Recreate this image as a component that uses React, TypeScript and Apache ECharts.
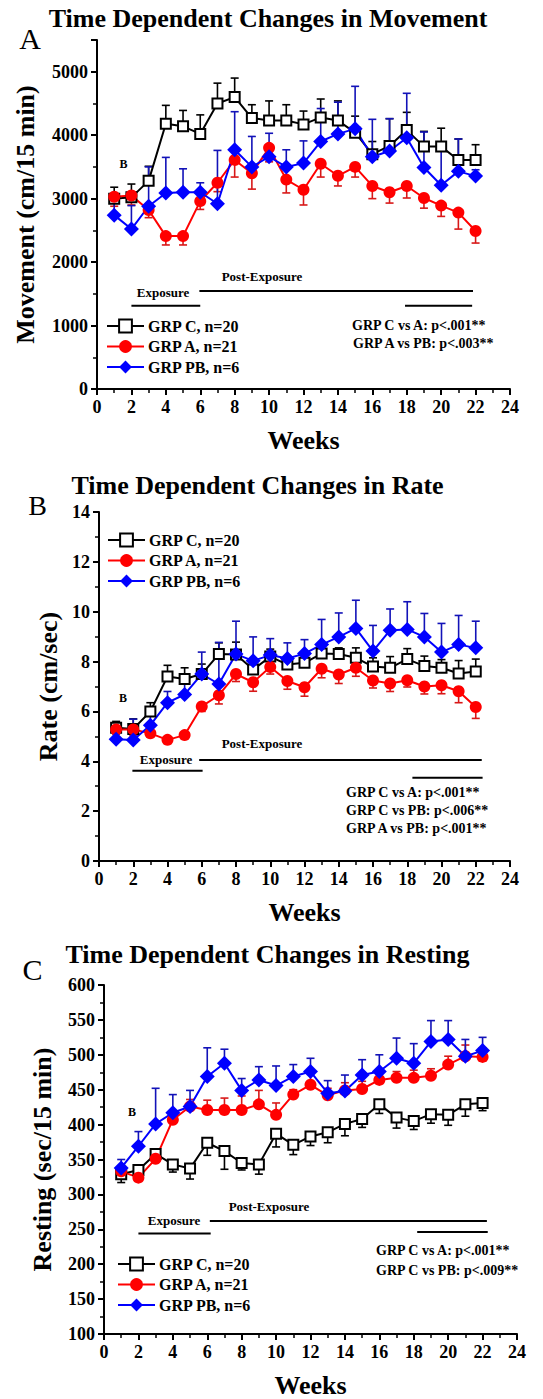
import React, { useEffect, useRef } from "react";
import * as echarts from "echarts";

// ---------- data ----------
const weeks = [1, 2, 3, 4, 5, 6, 7, 8, 9, 10, 11, 12, 13, 14, 15, 16, 17, 18, 19, 20, 21, 22];
const groupNames = ["GRP C, n=20", "GRP A, n=21", "GRP PB, n=6"];
const xTicks = [0, 2, 4, 6, 8, 10, 12, 14, 16, 18, 20, 22, 24];

// Panel A: Movement (cm/15 min)
const movementC = [3000, 3020, 3280, 4180, 4140, 4020, 4500, 4600, 4270, 4230, 4230, 4170, 4280, 4230, 4040, 3700, 3830, 4080, 3820, 3820, 3610, 3610];
const movementCErr = [180, 210, 230, 290, 250, 300, 320, 300, 210, 310, 250, 210, 290, 310, 260, 200, 430, 280, 240, 290, 330, 240];
const movementA = [3030, 3050, 2820, 2410, 2410, 2960, 3250, 3610, 3400, 3800, 3300, 3140, 3550, 3360, 3500, 3200, 3100, 3200, 3010, 2890, 2780, 2490];
const movementAErr = [150, 150, 120, 140, 140, 130, 140, 270, 250, 220, 210, 240, 210, 160, 160, 200, 170, 190, 160, 170, 260, 190];
const movementPB = [2740, 2520, 2880, 3090, 3100, 3100, 2920, 3770, 3500, 3660, 3500, 3560, 3900, 4020, 4100, 3660, 3750, 3960, 3490, 3210, 3430, 3355];
const movementPBErr = [300, 370, 620, 560, 370, 150, 840, 600, 480, 370, 270, 350, 520, 500, 670, 590, 510, 700, 560, 670, 510, 100];

// Panel B: Rate (cm/sec)
const rateC = [5.35, 5.3, 6.0, 7.4, 7.3, 7.5, 8.3, 8.28, 7.68, 8.2, 7.88, 7.95, 8.32, 8.3, 8.15, 7.8, 7.75, 8.1, 7.82, 7.75, 7.52, 7.6];
const rateCErr = [0.25, 0.4, 0.35, 0.45, 0.45, 0.4, 0.45, 0.5, 0.4, 0.3, 0.3, 0.3, 0.3, 0.25, 0.4, 0.35, 0.45, 0.42, 0.4, 0.33, 0.52, 0.5];
const rateA = [5.28, 5.28, 5.12, 4.86, 5.05, 6.2, 6.65, 7.5, 7.17, 7.78, 7.22, 6.97, 7.71, 7.48, 7.75, 7.24, 7.12, 7.25, 7.0, 7.05, 6.81, 6.18];
const rateAErr = [0.2, 0.25, 0.15, 0.15, 0.15, 0.2, 0.35, 0.3, 0.36, 0.28, 0.33, 0.36, 0.36, 0.36, 0.34, 0.3, 0.32, 0.27, 0.3, 0.34, 0.46, 0.46];
const ratePB = [4.88, 4.85, 5.45, 6.35, 6.68, 7.5, 7.1, 8.3, 8.03, 8.26, 8.12, 8.32, 8.68, 8.99, 9.33, 8.42, 9.26, 9.29, 8.99, 8.38, 8.68, 8.55];
const ratePBErr = [0.6, 0.84, 0.45, 0.45, 0.67, 0.88, 1.67, 1.32, 0.96, 0.66, 0.63, 0.56, 1.01, 0.96, 1.13, 1.03, 0.85, 1.11, 0.94, 1.15, 1.17, 1.07];

// Panel C: Resting (sec/15 min)
const restC = [329, 335, 358, 343, 337, 374, 362, 345, 343, 387, 371, 383, 389, 401, 408, 429, 410, 405, 415, 414, 429, 431];
const restCErr = [12, 13, 10, 11, 15, 18, 26, 10, 14, 19, 14, 13, 15, 17, 12, 13, 15, 12, 13, 15, 17, 11];
const restA = [333, 324, 351, 407, 426, 421, 421, 421, 429, 414, 443, 457, 442, 449, 451, 464, 467, 467, 470, 486, 498, 497];
const restAErr = [8, 6, 8, 9, 10, 14, 17, 20, 20, 17, 7, 19, 10, 11, 11, 12, 9, 11, 10, 12, 16, 13];
const restPB = [338, 369, 401, 417, 426, 469, 488, 449, 464, 456, 469, 476, 445, 448, 471, 476, 495, 488, 519, 522, 498, 506];
const restPBErr = [12, 21, 51, 26, 23, 41, 20, 17, 19, 28, 17, 19, 18, 23, 22, 24, 29, 28, 30, 27, 24, 19];

// period bars: [startWeek, endWeek, level]
const movementExposure = [2, 6, 1310];
const movementPost = [5.95, 21.85, 1545];
const movementStatBar = [17.9, 21.8, 1310];
const rateExposure = [1.95, 6.05, 3.62];
const ratePost = [5.85, 22.35, 4.05];
const rateStatBar = [18.3, 22.4, 3.34];
const restExposure = [2.0, 6.2, 244];
const restPost = [6.15, 22.25, 262];
const restStatBar = [18.2, 22.3, 246];

const statsA = ["GRP C vs A: p<.001**", "GRP A vs PB: p<.003**"];
const statsB = ["GRP C vs A: p<.001**", "GRP C vs PB: p<.006**", "GRP A vs PB: p<.001**"];
const statsC = ["GRP C vs A: p<.001**", "GRP C vs PB: p<.009**"];

// ---------- styling ----------
const FONT = "'Liberation Serif', 'Times New Roman', serif";
const BLACK = "#000000";
const RED = "#ff0000";
const BLUE = "#0000ff";
const RED_BAR = "#d81818";
const BLUE_BAR = "#1212b8";

function errRender(color: string) {
  return (params: any, api: any) => {
    const x = api.value(0);
    const v = api.value(1);
    const e = api.value(2);
    const p = api.coord([x, v]);
    const q = api.coord([x, e]);
    return {
      type: "group",
      children: [
        { type: "line", shape: { x1: p[0], y1: p[1], x2: q[0], y2: q[1] }, style: { stroke: color, lineWidth: 1.6 } },
        { type: "line", shape: { x1: q[0] - 4, y1: q[1], x2: q[0] + 4, y2: q[1] }, style: { stroke: color, lineWidth: 1.6 } },
      ],
    };
  };
}

function groupSeries(idx: number, name: string, vals: number[], errs: number[], dir: number, kind: "C" | "A" | "PB") {
  const color = kind === "C" ? BLACK : kind === "A" ? RED : BLUE;
  const barColor = kind === "C" ? BLACK : kind === "A" ? RED_BAR : BLUE_BAR;
  const bars = {
    type: "custom",
    name: name + " SEM",
    xAxisIndex: idx,
    yAxisIndex: idx,
    renderItem: errRender(barColor),
    encode: { x: 0, y: 1 },
    silent: true,
    data: weeks.map((w, i) => [w, vals[i], vals[i] + dir * errs[i]]),
  };
  const line = {
    type: "line",
    name,
    xAxisIndex: idx,
    yAxisIndex: idx,
    symbol: kind === "C" ? "emptyRect" : kind === "A" ? "circle" : "diamond",
    symbolSize: kind === "C" ? 10 : kind === "A" ? 12 : 15,
    showAllSymbol: true,
    lineStyle: { color, width: 2 },
    itemStyle: { color, borderColor: color, borderWidth: kind === "C" ? 1.6 : 0 },
    data: weeks.map((w, i) => [w, vals[i]]),
  };
  return [bars, line];
}

function periodLine(idx: number, seg: number[], key: string) {
  return {
    type: "line",
    name: key,
    xAxisIndex: idx,
    yAxisIndex: idx,
    symbol: "none",
    silent: true,
    lineStyle: { color: BLACK, width: 2 },
    data: [
      [seg[0], seg[2]],
      [seg[1], seg[2]],
    ],
  };
}

const axisText = { color: BLACK, fontFamily: FONT, fontWeight: "bold" as const, fontSize: 18 };

function xAxisCfg(idx: number) {
  return {
    type: "value",
    gridIndex: idx,
    min: 0,
    max: 24,
    interval: 2,
    name: "Weeks",
    nameLocation: "middle",
    nameGap: 38,
    nameTextStyle: { color: BLACK, fontFamily: FONT, fontWeight: "bold", fontSize: 26 },
    axisLine: { lineStyle: { color: BLACK, width: 2 } },
    axisTick: { length: 6, lineStyle: { color: BLACK, width: 2 } },
    minorTick: { show: true, splitNumber: 2, length: 4, lineStyle: { color: BLACK, width: 1.5 } },
    splitLine: { show: false },
    axisLabel: { ...axisText, margin: 9, formatter: (v: number) => (xTicks.includes(v) ? String(v) : "") },
  };
}

function yAxisCfg(idx: number, min: number, max: number, interval: number, name: string, gap: number) {
  return {
    type: "value",
    gridIndex: idx,
    min,
    max,
    interval,
    name,
    nameLocation: "middle",
    nameGap: gap,
    nameTextStyle: { color: BLACK, fontFamily: FONT, fontWeight: "bold", fontSize: 26 },
    axisLine: { show: true, lineStyle: { color: BLACK, width: 2 } },
    axisTick: { show: true, length: 6, lineStyle: { color: BLACK, width: 2 } },
    minorTick: { show: true, splitNumber: 2, length: 4, lineStyle: { color: BLACK, width: 1.5 } },
    splitLine: { show: false },
    axisLabel: {
      ...axisText,
      margin: 9,
      showMaxLabel: max % interval === 0,
      formatter: (v: number) => String(v),
    },
  };
}

function legendCfg(left: number, top: number) {
  return {
    orient: "vertical",
    left,
    top,
    padding: 0,
    itemWidth: 37,
    itemHeight: 16,
    itemGap: 4.5,
    selectedMode: false,
    textStyle: { color: BLACK, fontFamily: FONT, fontWeight: "bold", fontSize: 16, lineHeight: 16, padding: [0, 0, 0, -1] },
    data: groupNames,
  };
}

function txt(x: number, y: number, text: string, size: number, opts: any = {}) {
  return {
    type: "text",
    x,
    y,
    silent: true,
    style: {
      text,
      fill: BLACK,
      font: `${opts.weight || "bold"} ${size}px ${FONT}`,
      textAlign: opts.align || "center",
      textVerticalAlign: "middle",
    },
  };
}

export default function App() {
  const ref = useRef<HTMLDivElement>(null);
  useEffect(() => {
    if (!ref.current) return;
    const chart = echarts.init(ref.current, undefined, { renderer: "svg" });
    const series: any[] = [
      ...groupSeries(0, groupNames[0], movementC, movementCErr, 1, "C"),
      ...groupSeries(0, groupNames[1], movementA, movementAErr, -1, "A"),
      ...groupSeries(0, groupNames[2], movementPB, movementPBErr, 1, "PB"),
      periodLine(0, movementExposure, "expA"),
      periodLine(0, movementPost, "postA"),
      periodLine(0, movementStatBar, "statA"),
      ...groupSeries(1, groupNames[0], rateC, rateCErr, 1, "C"),
      ...groupSeries(1, groupNames[1], rateA, rateAErr, -1, "A"),
      ...groupSeries(1, groupNames[2], ratePB, ratePBErr, 1, "PB"),
      periodLine(1, rateExposure, "expB"),
      periodLine(1, ratePost, "postB"),
      periodLine(1, rateStatBar, "statB"),
      ...groupSeries(2, groupNames[0], restC, restCErr, -1, "C"),
      ...groupSeries(2, groupNames[1], restA, restAErr, 1, "A"),
      ...groupSeries(2, groupNames[2], restPB, restPBErr, 1, "PB"),
      periodLine(2, restExposure, "expC"),
      periodLine(2, restPost, "postC"),
      periodLine(2, restStatBar, "statC"),
    ];
    const graphics: any[] = [
      txt(268, 18, "Time Dependent Changes in Movement", 26),
      txt(30, 38, "A", 30, { weight: "normal" }),
      txt(123.5, 164, "B", 12),
      txt(163, 292, "Exposure", 13),
      txt(262, 276, "Post-Exposure", 13),
      txt(352, 325.5, statsA[0], 14, { align: "left" }),
      txt(353, 343.5, statsA[1], 14, { align: "left" }),

      txt(257.5, 485.5, "Time Dependent Changes in Rate", 26),
      txt(37.5, 505.5, "B", 28, { weight: "normal" }),
      txt(123, 698, "B", 12),
      txt(166, 759.6, "Exposure", 13),
      txt(262, 743.6, "Post-Exposure", 13),
      txt(346, 792.2, statsB[0], 14, { align: "left" }),
      txt(346, 810.2, statsB[1], 14, { align: "left" }),
      txt(346, 828.2, statsB[2], 14, { align: "left" }),

      txt(267.5, 954.5, "Time Dependent Changes in Resting", 26),
      txt(32.5, 969, "C", 30, { weight: "normal" }),
      txt(132, 1112, "B", 12),
      txt(174, 1220.6, "Exposure", 13),
      txt(269, 1206.6, "Post-Exposure", 13),
      txt(376, 1250, statsC[0], 14, { align: "left" }),
      txt(376, 1270, statsC[1], 14, { align: "left" }),
    ];
    chart.setOption({
      animation: false,
      backgroundColor: "#ffffff",
      grid: [
        { left: 97, top: 40, width: 413, height: 349 },
        { left: 99, top: 512, width: 411, height: 349 },
        { left: 104, top: 985, width: 413, height: 349 },
      ],
      xAxis: [xAxisCfg(0), xAxisCfg(1), xAxisCfg(2)],
      yAxis: [
        yAxisCfg(0, 0, 5500, 1000, "Movement (cm/15 min)", 59),
        yAxisCfg(1, 0, 14, 2, "Rate (cm/sec)", 34),
        yAxisCfg(2, 100, 600, 50, "Resting (sec/15 min)", 49),
      ],
      legend: [legendCfg(106, 318), legendCfg(107, 532), legendCfg(117, 1256)],
      series,
      graphic: graphics,
    });
    return () => chart.dispose();
  }, []);
  return <div ref={ref} style={{ position: "absolute", left: 0, top: 0, width: 543, height: 1399, background: "#fff" }} />;
}
